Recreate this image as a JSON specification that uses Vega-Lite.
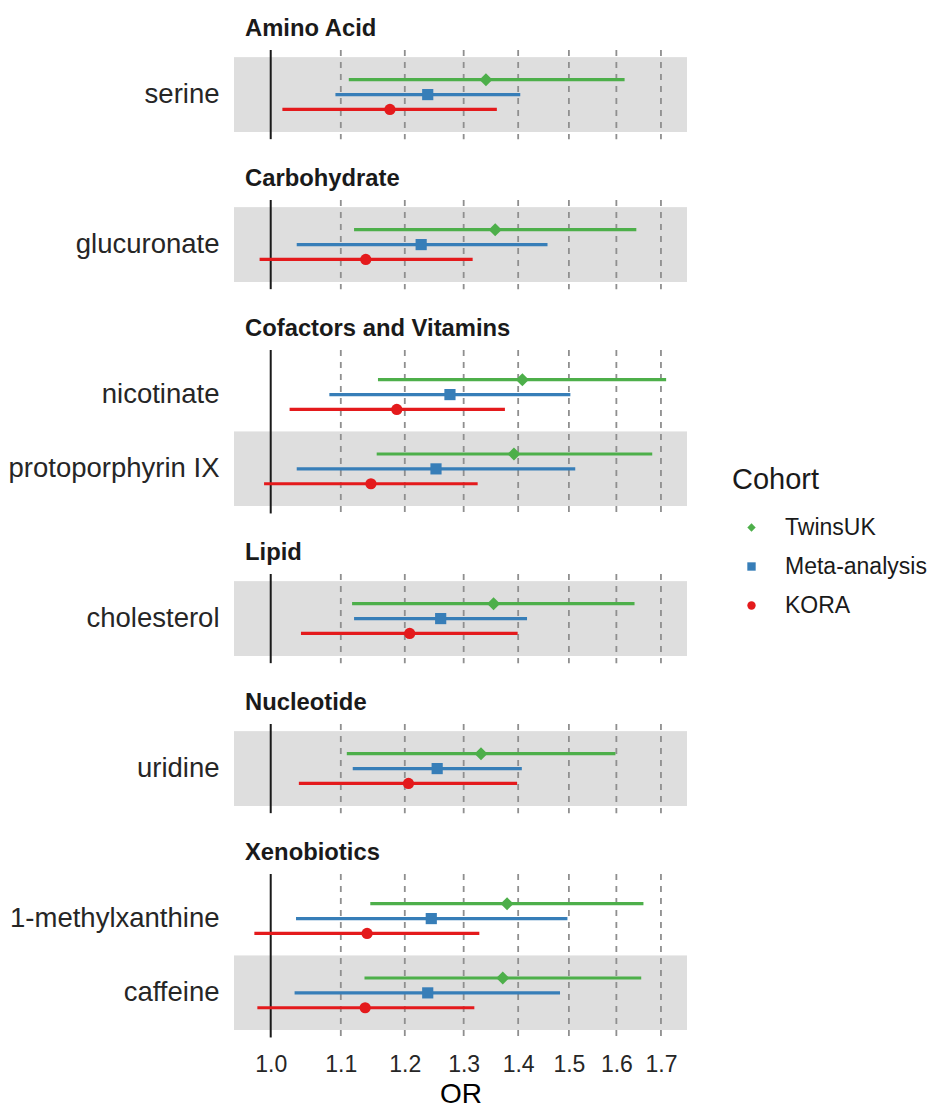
{
  "$schema": "https://vega.github.io/schema/vega-lite/v6.json",
  "background": "white",
  "padding": {"left": 8, "top": 17, "right": 5, "bottom": 0},
  "data": {"name": "forest"},
  "datasets": {
    "forest": [
      {"class": "Amino Acid", "metabolite": "serine", "cohort": "TwinsUK", "or": 1.340, "lo": 1.112, "hi": 1.618},
      {"class": "Amino Acid", "metabolite": "serine", "cohort": "Meta-analysis", "or": 1.238, "lo": 1.092, "hi": 1.404},
      {"class": "Amino Acid", "metabolite": "serine", "cohort": "KORA", "or": 1.176, "lo": 1.016, "hi": 1.360},
      {"class": "Carbohydrate", "metabolite": "glucuronate", "cohort": "TwinsUK", "or": 1.357, "lo": 1.120, "hi": 1.644},
      {"class": "Carbohydrate", "metabolite": "glucuronate", "cohort": "Meta-analysis", "or": 1.227, "lo": 1.036, "hi": 1.457},
      {"class": "Carbohydrate", "metabolite": "glucuronate", "cohort": "KORA", "or": 1.138, "lo": 0.985, "hi": 1.316},
      {"class": "Cofactors and Vitamins", "metabolite": "nicotinate", "cohort": "TwinsUK", "or": 1.408, "lo": 1.157, "hi": 1.712},
      {"class": "Cofactors and Vitamins", "metabolite": "nicotinate", "cohort": "Meta-analysis", "or": 1.276, "lo": 1.083, "hi": 1.503},
      {"class": "Cofactors and Vitamins", "metabolite": "nicotinate", "cohort": "KORA", "or": 1.187, "lo": 1.026, "hi": 1.375},
      {"class": "Cofactors and Vitamins", "metabolite": "protoporphyrin IX", "cohort": "TwinsUK", "or": 1.392, "lo": 1.155, "hi": 1.680},
      {"class": "Cofactors and Vitamins", "metabolite": "protoporphyrin IX", "cohort": "Meta-analysis", "or": 1.252, "lo": 1.036, "hi": 1.513},
      {"class": "Cofactors and Vitamins", "metabolite": "protoporphyrin IX", "cohort": "KORA", "or": 1.146, "lo": 0.991, "hi": 1.325},
      {"class": "Lipid", "metabolite": "cholesterol", "cohort": "TwinsUK", "or": 1.354, "lo": 1.117, "hi": 1.640},
      {"class": "Lipid", "metabolite": "cholesterol", "cohort": "Meta-analysis", "or": 1.260, "lo": 1.120, "hi": 1.417},
      {"class": "Lipid", "metabolite": "cholesterol", "cohort": "KORA", "or": 1.208, "lo": 1.042, "hi": 1.399},
      {"class": "Nucleotide", "metabolite": "uridine", "cohort": "TwinsUK", "or": 1.331, "lo": 1.109, "hi": 1.598},
      {"class": "Nucleotide", "metabolite": "uridine", "cohort": "Meta-analysis", "or": 1.254, "lo": 1.118, "hi": 1.407},
      {"class": "Nucleotide", "metabolite": "uridine", "cohort": "KORA", "or": 1.206, "lo": 1.039, "hi": 1.398},
      {"class": "Xenobiotics", "metabolite": "1-methylxanthine", "cohort": "TwinsUK", "or": 1.379, "lo": 1.145, "hi": 1.660},
      {"class": "Xenobiotics", "metabolite": "1-methylxanthine", "cohort": "Meta-analysis", "or": 1.244, "lo": 1.035, "hi": 1.497},
      {"class": "Xenobiotics", "metabolite": "1-methylxanthine", "cohort": "KORA", "or": 1.140, "lo": 0.978, "hi": 1.328},
      {"class": "Xenobiotics", "metabolite": "caffeine", "cohort": "TwinsUK", "or": 1.371, "lo": 1.136, "hi": 1.655},
      {"class": "Xenobiotics", "metabolite": "caffeine", "cohort": "Meta-analysis", "or": 1.238, "lo": 1.033, "hi": 1.482},
      {"class": "Xenobiotics", "metabolite": "caffeine", "cohort": "KORA", "or": 1.137, "lo": 0.982, "hi": 1.319}
    ],
    "gridlines": [{"v": 1.1}, {"v": 1.2}, {"v": 1.3}, {"v": 1.4}, {"v": 1.5}, {"v": 1.6}, {"v": 1.7}],
    "reference": [{"v": 1.0}]
  },
  "spacing": 26,
  "resolve": {"scale": {"yOffset": "independent"}},
  "vconcat": [
    {
      "title": {"text": "Amino Acid", "dx": 11},
      "width": 453,
      "height": {"step": 74.3},
      "layer": [
        {"transform": [{"filter": {"field": "class", "equal": "Amino Acid"}}, {"filter": {"field": "metabolite", "oneOf": ["serine", "glucuronate", "protoporphyrin IX", "cholesterol", "uridine", "caffeine"]}}],
         "mark": {"type": "rect", "color": "#dedede"},
         "encoding": {"y": {"field": "metabolite", "type": "nominal", "title": null, "scale": {"paddingInner": 0, "paddingOuter": 0.1}},
                      "x": {"datum": 0.9513, "type": "quantitative", "scale": {"type": "log", "domain": [0.9513, 1.7613], "nice": false}, "axis": null},
                      "x2": {"datum": 1.7613}}},
        {"data": {"name": "gridlines"}, "mark": {"type": "rule", "strokeDash": [6, 6], "color": "#8f8f8f", "strokeWidth": 1.8},
         "encoding": {"x": {"field": "v", "type": "quantitative", "scale": {"type": "log", "domain": [0.9513, 1.7613], "nice": false}, "axis": null}}},
        {"data": {"name": "reference"}, "mark": {"type": "rule", "color": "#1a1a1a", "strokeWidth": 2},
         "encoding": {"x": {"field": "v", "type": "quantitative", "scale": {"type": "log", "domain": [0.9513, 1.7613], "nice": false}, "axis": null}}},
        {"transform": [{"filter": {"field": "class", "equal": "Amino Acid"}}],
         "mark": {"type": "rule", "strokeWidth": 3.2},
         "encoding": {"y": {"field": "metabolite", "type": "nominal", "title": null, "scale": {"paddingInner": 0, "paddingOuter": 0.1}},
                      "yOffset": {"field": "cohort", "type": "nominal", "scale": {"domain": ["TwinsUK", "Meta-analysis", "KORA"], "range": [0, 74.3], "paddingInner": 0, "paddingOuter": 1.448}},
                      "x": {"field": "lo", "type": "quantitative", "scale": {"type": "log", "domain": [0.9513, 1.7613], "nice": false}, "axis": null},
                      "x2": {"field": "hi"},
                      "color": {"field": "cohort", "type": "nominal", "scale": {"domain": ["TwinsUK", "Meta-analysis", "KORA"], "range": ["#4DAF4A", "#377EB8", "#E41A1C"]}, "legend": {"title": "Cohort", "orient": "none", "legendX": 498, "legendY": 416}}}},
        {"transform": [{"filter": {"field": "class", "equal": "Amino Acid"}}, {"filter": {"field": "cohort", "equal": "TwinsUK"}}],
         "mark": {"type": "point", "filled": true, "opacity": 1, "size": 170},
         "encoding": {"y": {"field": "metabolite", "type": "nominal", "title": null, "scale": {"paddingInner": 0, "paddingOuter": 0.1}},
                      "yOffset": {"field": "cohort", "type": "nominal", "scale": {"domain": ["TwinsUK", "Meta-analysis", "KORA"], "range": [0, 74.3], "paddingInner": 0, "paddingOuter": 1.448}},
                      "x": {"field": "or", "type": "quantitative", "scale": {"type": "log", "domain": [0.9513, 1.7613], "nice": false}, "axis": null},
                      "color": {"field": "cohort", "type": "nominal", "scale": {"domain": ["TwinsUK", "Meta-analysis", "KORA"], "range": ["#4DAF4A", "#377EB8", "#E41A1C"]}, "legend": {"title": "Cohort", "orient": "none", "legendX": 498, "legendY": 416}},
                      "shape": {"field": "cohort", "type": "nominal", "scale": {"domain": ["TwinsUK", "Meta-analysis", "KORA"], "range": ["diamond", "square", "circle"]}, "legend": {"title": "Cohort", "orient": "none", "legendX": 498, "legendY": 416}}}},
        {"transform": [{"filter": {"field": "class", "equal": "Amino Acid"}}, {"filter": {"field": "cohort", "oneOf": ["Meta-analysis", "KORA"]}}],
         "mark": {"type": "point", "filled": true, "opacity": 1, "size": 125},
         "encoding": {"y": {"field": "metabolite", "type": "nominal", "title": null, "scale": {"paddingInner": 0, "paddingOuter": 0.1}},
                      "yOffset": {"field": "cohort", "type": "nominal", "scale": {"domain": ["TwinsUK", "Meta-analysis", "KORA"], "range": [0, 74.3], "paddingInner": 0, "paddingOuter": 1.448}},
                      "x": {"field": "or", "type": "quantitative", "scale": {"type": "log", "domain": [0.9513, 1.7613], "nice": false}, "axis": null},
                      "color": {"field": "cohort", "type": "nominal", "scale": {"domain": ["TwinsUK", "Meta-analysis", "KORA"], "range": ["#4DAF4A", "#377EB8", "#E41A1C"]}, "legend": {"title": "Cohort", "orient": "none", "legendX": 498, "legendY": 416}},
                      "shape": {"field": "cohort", "type": "nominal", "scale": {"domain": ["TwinsUK", "Meta-analysis", "KORA"], "range": ["diamond", "square", "circle"]}, "legend": {"title": "Cohort", "orient": "none", "legendX": 498, "legendY": 416}}}}
      ]
    },
    {
      "title": {"text": "Carbohydrate", "dx": 11},
      "width": 453,
      "height": {"step": 74.3},
      "layer": [
        {"transform": [{"filter": {"field": "class", "equal": "Carbohydrate"}}, {"filter": {"field": "metabolite", "oneOf": ["serine", "glucuronate", "protoporphyrin IX", "cholesterol", "uridine", "caffeine"]}}],
         "mark": {"type": "rect", "color": "#dedede"},
         "encoding": {"y": {"field": "metabolite", "type": "nominal", "title": null, "scale": {"paddingInner": 0, "paddingOuter": 0.1}},
                      "x": {"datum": 0.9513, "type": "quantitative", "scale": {"type": "log", "domain": [0.9513, 1.7613], "nice": false}, "axis": null},
                      "x2": {"datum": 1.7613}}},
        {"data": {"name": "gridlines"}, "mark": {"type": "rule", "strokeDash": [6, 6], "color": "#8f8f8f", "strokeWidth": 1.8},
         "encoding": {"x": {"field": "v", "type": "quantitative", "scale": {"type": "log", "domain": [0.9513, 1.7613], "nice": false}, "axis": null}}},
        {"data": {"name": "reference"}, "mark": {"type": "rule", "color": "#1a1a1a", "strokeWidth": 2},
         "encoding": {"x": {"field": "v", "type": "quantitative", "scale": {"type": "log", "domain": [0.9513, 1.7613], "nice": false}, "axis": null}}},
        {"transform": [{"filter": {"field": "class", "equal": "Carbohydrate"}}],
         "mark": {"type": "rule", "strokeWidth": 3.2},
         "encoding": {"y": {"field": "metabolite", "type": "nominal", "title": null, "scale": {"paddingInner": 0, "paddingOuter": 0.1}},
                      "yOffset": {"field": "cohort", "type": "nominal", "scale": {"domain": ["TwinsUK", "Meta-analysis", "KORA"], "range": [0, 74.3], "paddingInner": 0, "paddingOuter": 1.448}},
                      "x": {"field": "lo", "type": "quantitative", "scale": {"type": "log", "domain": [0.9513, 1.7613], "nice": false}, "axis": null},
                      "x2": {"field": "hi"},
                      "color": {"field": "cohort", "type": "nominal", "scale": {"domain": ["TwinsUK", "Meta-analysis", "KORA"], "range": ["#4DAF4A", "#377EB8", "#E41A1C"]}, "legend": {"title": "Cohort", "orient": "none", "legendX": 498, "legendY": 416}}}},
        {"transform": [{"filter": {"field": "class", "equal": "Carbohydrate"}}, {"filter": {"field": "cohort", "equal": "TwinsUK"}}],
         "mark": {"type": "point", "filled": true, "opacity": 1, "size": 170},
         "encoding": {"y": {"field": "metabolite", "type": "nominal", "title": null, "scale": {"paddingInner": 0, "paddingOuter": 0.1}},
                      "yOffset": {"field": "cohort", "type": "nominal", "scale": {"domain": ["TwinsUK", "Meta-analysis", "KORA"], "range": [0, 74.3], "paddingInner": 0, "paddingOuter": 1.448}},
                      "x": {"field": "or", "type": "quantitative", "scale": {"type": "log", "domain": [0.9513, 1.7613], "nice": false}, "axis": null},
                      "color": {"field": "cohort", "type": "nominal", "scale": {"domain": ["TwinsUK", "Meta-analysis", "KORA"], "range": ["#4DAF4A", "#377EB8", "#E41A1C"]}, "legend": {"title": "Cohort", "orient": "none", "legendX": 498, "legendY": 416}},
                      "shape": {"field": "cohort", "type": "nominal", "scale": {"domain": ["TwinsUK", "Meta-analysis", "KORA"], "range": ["diamond", "square", "circle"]}, "legend": {"title": "Cohort", "orient": "none", "legendX": 498, "legendY": 416}}}},
        {"transform": [{"filter": {"field": "class", "equal": "Carbohydrate"}}, {"filter": {"field": "cohort", "oneOf": ["Meta-analysis", "KORA"]}}],
         "mark": {"type": "point", "filled": true, "opacity": 1, "size": 125},
         "encoding": {"y": {"field": "metabolite", "type": "nominal", "title": null, "scale": {"paddingInner": 0, "paddingOuter": 0.1}},
                      "yOffset": {"field": "cohort", "type": "nominal", "scale": {"domain": ["TwinsUK", "Meta-analysis", "KORA"], "range": [0, 74.3], "paddingInner": 0, "paddingOuter": 1.448}},
                      "x": {"field": "or", "type": "quantitative", "scale": {"type": "log", "domain": [0.9513, 1.7613], "nice": false}, "axis": null},
                      "color": {"field": "cohort", "type": "nominal", "scale": {"domain": ["TwinsUK", "Meta-analysis", "KORA"], "range": ["#4DAF4A", "#377EB8", "#E41A1C"]}, "legend": {"title": "Cohort", "orient": "none", "legendX": 498, "legendY": 416}},
                      "shape": {"field": "cohort", "type": "nominal", "scale": {"domain": ["TwinsUK", "Meta-analysis", "KORA"], "range": ["diamond", "square", "circle"]}, "legend": {"title": "Cohort", "orient": "none", "legendX": 498, "legendY": 416}}}}
      ]
    },
    {
      "title": {"text": "Cofactors and Vitamins", "dx": 11},
      "width": 453,
      "height": {"step": 74.3},
      "layer": [
        {"transform": [{"filter": {"field": "class", "equal": "Cofactors and Vitamins"}}, {"filter": {"field": "metabolite", "oneOf": ["serine", "glucuronate", "protoporphyrin IX", "cholesterol", "uridine", "caffeine"]}}],
         "mark": {"type": "rect", "color": "#dedede"},
         "encoding": {"y": {"field": "metabolite", "type": "nominal", "title": null, "scale": {"paddingInner": 0, "paddingOuter": 0.1}},
                      "x": {"datum": 0.9513, "type": "quantitative", "scale": {"type": "log", "domain": [0.9513, 1.7613], "nice": false}, "axis": null},
                      "x2": {"datum": 1.7613}}},
        {"data": {"name": "gridlines"}, "mark": {"type": "rule", "strokeDash": [6, 6], "color": "#8f8f8f", "strokeWidth": 1.8},
         "encoding": {"x": {"field": "v", "type": "quantitative", "scale": {"type": "log", "domain": [0.9513, 1.7613], "nice": false}, "axis": null}}},
        {"data": {"name": "reference"}, "mark": {"type": "rule", "color": "#1a1a1a", "strokeWidth": 2},
         "encoding": {"x": {"field": "v", "type": "quantitative", "scale": {"type": "log", "domain": [0.9513, 1.7613], "nice": false}, "axis": null}}},
        {"transform": [{"filter": {"field": "class", "equal": "Cofactors and Vitamins"}}],
         "mark": {"type": "rule", "strokeWidth": 3.2},
         "encoding": {"y": {"field": "metabolite", "type": "nominal", "title": null, "scale": {"paddingInner": 0, "paddingOuter": 0.1}},
                      "yOffset": {"field": "cohort", "type": "nominal", "scale": {"domain": ["TwinsUK", "Meta-analysis", "KORA"], "range": [0, 74.3], "paddingInner": 0, "paddingOuter": 1.448}},
                      "x": {"field": "lo", "type": "quantitative", "scale": {"type": "log", "domain": [0.9513, 1.7613], "nice": false}, "axis": null},
                      "x2": {"field": "hi"},
                      "color": {"field": "cohort", "type": "nominal", "scale": {"domain": ["TwinsUK", "Meta-analysis", "KORA"], "range": ["#4DAF4A", "#377EB8", "#E41A1C"]}, "legend": {"title": "Cohort", "orient": "none", "legendX": 498, "legendY": 416}}}},
        {"transform": [{"filter": {"field": "class", "equal": "Cofactors and Vitamins"}}, {"filter": {"field": "cohort", "equal": "TwinsUK"}}],
         "mark": {"type": "point", "filled": true, "opacity": 1, "size": 170},
         "encoding": {"y": {"field": "metabolite", "type": "nominal", "title": null, "scale": {"paddingInner": 0, "paddingOuter": 0.1}},
                      "yOffset": {"field": "cohort", "type": "nominal", "scale": {"domain": ["TwinsUK", "Meta-analysis", "KORA"], "range": [0, 74.3], "paddingInner": 0, "paddingOuter": 1.448}},
                      "x": {"field": "or", "type": "quantitative", "scale": {"type": "log", "domain": [0.9513, 1.7613], "nice": false}, "axis": null},
                      "color": {"field": "cohort", "type": "nominal", "scale": {"domain": ["TwinsUK", "Meta-analysis", "KORA"], "range": ["#4DAF4A", "#377EB8", "#E41A1C"]}, "legend": {"title": "Cohort", "orient": "none", "legendX": 498, "legendY": 416}},
                      "shape": {"field": "cohort", "type": "nominal", "scale": {"domain": ["TwinsUK", "Meta-analysis", "KORA"], "range": ["diamond", "square", "circle"]}, "legend": {"title": "Cohort", "orient": "none", "legendX": 498, "legendY": 416}}}},
        {"transform": [{"filter": {"field": "class", "equal": "Cofactors and Vitamins"}}, {"filter": {"field": "cohort", "oneOf": ["Meta-analysis", "KORA"]}}],
         "mark": {"type": "point", "filled": true, "opacity": 1, "size": 125},
         "encoding": {"y": {"field": "metabolite", "type": "nominal", "title": null, "scale": {"paddingInner": 0, "paddingOuter": 0.1}},
                      "yOffset": {"field": "cohort", "type": "nominal", "scale": {"domain": ["TwinsUK", "Meta-analysis", "KORA"], "range": [0, 74.3], "paddingInner": 0, "paddingOuter": 1.448}},
                      "x": {"field": "or", "type": "quantitative", "scale": {"type": "log", "domain": [0.9513, 1.7613], "nice": false}, "axis": null},
                      "color": {"field": "cohort", "type": "nominal", "scale": {"domain": ["TwinsUK", "Meta-analysis", "KORA"], "range": ["#4DAF4A", "#377EB8", "#E41A1C"]}, "legend": {"title": "Cohort", "orient": "none", "legendX": 498, "legendY": 416}},
                      "shape": {"field": "cohort", "type": "nominal", "scale": {"domain": ["TwinsUK", "Meta-analysis", "KORA"], "range": ["diamond", "square", "circle"]}, "legend": {"title": "Cohort", "orient": "none", "legendX": 498, "legendY": 416}}}}
      ]
    },
    {
      "title": {"text": "Lipid", "dx": 11},
      "width": 453,
      "height": {"step": 74.3},
      "layer": [
        {"transform": [{"filter": {"field": "class", "equal": "Lipid"}}, {"filter": {"field": "metabolite", "oneOf": ["serine", "glucuronate", "protoporphyrin IX", "cholesterol", "uridine", "caffeine"]}}],
         "mark": {"type": "rect", "color": "#dedede"},
         "encoding": {"y": {"field": "metabolite", "type": "nominal", "title": null, "scale": {"paddingInner": 0, "paddingOuter": 0.1}},
                      "x": {"datum": 0.9513, "type": "quantitative", "scale": {"type": "log", "domain": [0.9513, 1.7613], "nice": false}, "axis": null},
                      "x2": {"datum": 1.7613}}},
        {"data": {"name": "gridlines"}, "mark": {"type": "rule", "strokeDash": [6, 6], "color": "#8f8f8f", "strokeWidth": 1.8},
         "encoding": {"x": {"field": "v", "type": "quantitative", "scale": {"type": "log", "domain": [0.9513, 1.7613], "nice": false}, "axis": null}}},
        {"data": {"name": "reference"}, "mark": {"type": "rule", "color": "#1a1a1a", "strokeWidth": 2},
         "encoding": {"x": {"field": "v", "type": "quantitative", "scale": {"type": "log", "domain": [0.9513, 1.7613], "nice": false}, "axis": null}}},
        {"transform": [{"filter": {"field": "class", "equal": "Lipid"}}],
         "mark": {"type": "rule", "strokeWidth": 3.2},
         "encoding": {"y": {"field": "metabolite", "type": "nominal", "title": null, "scale": {"paddingInner": 0, "paddingOuter": 0.1}},
                      "yOffset": {"field": "cohort", "type": "nominal", "scale": {"domain": ["TwinsUK", "Meta-analysis", "KORA"], "range": [0, 74.3], "paddingInner": 0, "paddingOuter": 1.448}},
                      "x": {"field": "lo", "type": "quantitative", "scale": {"type": "log", "domain": [0.9513, 1.7613], "nice": false}, "axis": null},
                      "x2": {"field": "hi"},
                      "color": {"field": "cohort", "type": "nominal", "scale": {"domain": ["TwinsUK", "Meta-analysis", "KORA"], "range": ["#4DAF4A", "#377EB8", "#E41A1C"]}, "legend": {"title": "Cohort", "orient": "none", "legendX": 498, "legendY": 416}}}},
        {"transform": [{"filter": {"field": "class", "equal": "Lipid"}}, {"filter": {"field": "cohort", "equal": "TwinsUK"}}],
         "mark": {"type": "point", "filled": true, "opacity": 1, "size": 170},
         "encoding": {"y": {"field": "metabolite", "type": "nominal", "title": null, "scale": {"paddingInner": 0, "paddingOuter": 0.1}},
                      "yOffset": {"field": "cohort", "type": "nominal", "scale": {"domain": ["TwinsUK", "Meta-analysis", "KORA"], "range": [0, 74.3], "paddingInner": 0, "paddingOuter": 1.448}},
                      "x": {"field": "or", "type": "quantitative", "scale": {"type": "log", "domain": [0.9513, 1.7613], "nice": false}, "axis": null},
                      "color": {"field": "cohort", "type": "nominal", "scale": {"domain": ["TwinsUK", "Meta-analysis", "KORA"], "range": ["#4DAF4A", "#377EB8", "#E41A1C"]}, "legend": {"title": "Cohort", "orient": "none", "legendX": 498, "legendY": 416}},
                      "shape": {"field": "cohort", "type": "nominal", "scale": {"domain": ["TwinsUK", "Meta-analysis", "KORA"], "range": ["diamond", "square", "circle"]}, "legend": {"title": "Cohort", "orient": "none", "legendX": 498, "legendY": 416}}}},
        {"transform": [{"filter": {"field": "class", "equal": "Lipid"}}, {"filter": {"field": "cohort", "oneOf": ["Meta-analysis", "KORA"]}}],
         "mark": {"type": "point", "filled": true, "opacity": 1, "size": 125},
         "encoding": {"y": {"field": "metabolite", "type": "nominal", "title": null, "scale": {"paddingInner": 0, "paddingOuter": 0.1}},
                      "yOffset": {"field": "cohort", "type": "nominal", "scale": {"domain": ["TwinsUK", "Meta-analysis", "KORA"], "range": [0, 74.3], "paddingInner": 0, "paddingOuter": 1.448}},
                      "x": {"field": "or", "type": "quantitative", "scale": {"type": "log", "domain": [0.9513, 1.7613], "nice": false}, "axis": null},
                      "color": {"field": "cohort", "type": "nominal", "scale": {"domain": ["TwinsUK", "Meta-analysis", "KORA"], "range": ["#4DAF4A", "#377EB8", "#E41A1C"]}, "legend": {"title": "Cohort", "orient": "none", "legendX": 498, "legendY": 416}},
                      "shape": {"field": "cohort", "type": "nominal", "scale": {"domain": ["TwinsUK", "Meta-analysis", "KORA"], "range": ["diamond", "square", "circle"]}, "legend": {"title": "Cohort", "orient": "none", "legendX": 498, "legendY": 416}}}}
      ]
    },
    {
      "title": {"text": "Nucleotide", "dx": 11},
      "width": 453,
      "height": {"step": 74.3},
      "layer": [
        {"transform": [{"filter": {"field": "class", "equal": "Nucleotide"}}, {"filter": {"field": "metabolite", "oneOf": ["serine", "glucuronate", "protoporphyrin IX", "cholesterol", "uridine", "caffeine"]}}],
         "mark": {"type": "rect", "color": "#dedede"},
         "encoding": {"y": {"field": "metabolite", "type": "nominal", "title": null, "scale": {"paddingInner": 0, "paddingOuter": 0.1}},
                      "x": {"datum": 0.9513, "type": "quantitative", "scale": {"type": "log", "domain": [0.9513, 1.7613], "nice": false}, "axis": null},
                      "x2": {"datum": 1.7613}}},
        {"data": {"name": "gridlines"}, "mark": {"type": "rule", "strokeDash": [6, 6], "color": "#8f8f8f", "strokeWidth": 1.8},
         "encoding": {"x": {"field": "v", "type": "quantitative", "scale": {"type": "log", "domain": [0.9513, 1.7613], "nice": false}, "axis": null}}},
        {"data": {"name": "reference"}, "mark": {"type": "rule", "color": "#1a1a1a", "strokeWidth": 2},
         "encoding": {"x": {"field": "v", "type": "quantitative", "scale": {"type": "log", "domain": [0.9513, 1.7613], "nice": false}, "axis": null}}},
        {"transform": [{"filter": {"field": "class", "equal": "Nucleotide"}}],
         "mark": {"type": "rule", "strokeWidth": 3.2},
         "encoding": {"y": {"field": "metabolite", "type": "nominal", "title": null, "scale": {"paddingInner": 0, "paddingOuter": 0.1}},
                      "yOffset": {"field": "cohort", "type": "nominal", "scale": {"domain": ["TwinsUK", "Meta-analysis", "KORA"], "range": [0, 74.3], "paddingInner": 0, "paddingOuter": 1.448}},
                      "x": {"field": "lo", "type": "quantitative", "scale": {"type": "log", "domain": [0.9513, 1.7613], "nice": false}, "axis": null},
                      "x2": {"field": "hi"},
                      "color": {"field": "cohort", "type": "nominal", "scale": {"domain": ["TwinsUK", "Meta-analysis", "KORA"], "range": ["#4DAF4A", "#377EB8", "#E41A1C"]}, "legend": {"title": "Cohort", "orient": "none", "legendX": 498, "legendY": 416}}}},
        {"transform": [{"filter": {"field": "class", "equal": "Nucleotide"}}, {"filter": {"field": "cohort", "equal": "TwinsUK"}}],
         "mark": {"type": "point", "filled": true, "opacity": 1, "size": 170},
         "encoding": {"y": {"field": "metabolite", "type": "nominal", "title": null, "scale": {"paddingInner": 0, "paddingOuter": 0.1}},
                      "yOffset": {"field": "cohort", "type": "nominal", "scale": {"domain": ["TwinsUK", "Meta-analysis", "KORA"], "range": [0, 74.3], "paddingInner": 0, "paddingOuter": 1.448}},
                      "x": {"field": "or", "type": "quantitative", "scale": {"type": "log", "domain": [0.9513, 1.7613], "nice": false}, "axis": null},
                      "color": {"field": "cohort", "type": "nominal", "scale": {"domain": ["TwinsUK", "Meta-analysis", "KORA"], "range": ["#4DAF4A", "#377EB8", "#E41A1C"]}, "legend": {"title": "Cohort", "orient": "none", "legendX": 498, "legendY": 416}},
                      "shape": {"field": "cohort", "type": "nominal", "scale": {"domain": ["TwinsUK", "Meta-analysis", "KORA"], "range": ["diamond", "square", "circle"]}, "legend": {"title": "Cohort", "orient": "none", "legendX": 498, "legendY": 416}}}},
        {"transform": [{"filter": {"field": "class", "equal": "Nucleotide"}}, {"filter": {"field": "cohort", "oneOf": ["Meta-analysis", "KORA"]}}],
         "mark": {"type": "point", "filled": true, "opacity": 1, "size": 125},
         "encoding": {"y": {"field": "metabolite", "type": "nominal", "title": null, "scale": {"paddingInner": 0, "paddingOuter": 0.1}},
                      "yOffset": {"field": "cohort", "type": "nominal", "scale": {"domain": ["TwinsUK", "Meta-analysis", "KORA"], "range": [0, 74.3], "paddingInner": 0, "paddingOuter": 1.448}},
                      "x": {"field": "or", "type": "quantitative", "scale": {"type": "log", "domain": [0.9513, 1.7613], "nice": false}, "axis": null},
                      "color": {"field": "cohort", "type": "nominal", "scale": {"domain": ["TwinsUK", "Meta-analysis", "KORA"], "range": ["#4DAF4A", "#377EB8", "#E41A1C"]}, "legend": {"title": "Cohort", "orient": "none", "legendX": 498, "legendY": 416}},
                      "shape": {"field": "cohort", "type": "nominal", "scale": {"domain": ["TwinsUK", "Meta-analysis", "KORA"], "range": ["diamond", "square", "circle"]}, "legend": {"title": "Cohort", "orient": "none", "legendX": 498, "legendY": 416}}}}
      ]
    },
    {
      "title": {"text": "Xenobiotics", "dx": 11},
      "width": 453,
      "height": {"step": 74.3},
      "layer": [
        {"transform": [{"filter": {"field": "class", "equal": "Xenobiotics"}}, {"filter": {"field": "metabolite", "oneOf": ["serine", "glucuronate", "protoporphyrin IX", "cholesterol", "uridine", "caffeine"]}}],
         "mark": {"type": "rect", "color": "#dedede"},
         "encoding": {"y": {"field": "metabolite", "type": "nominal", "title": null, "scale": {"paddingInner": 0, "paddingOuter": 0.1}},
                      "x": {"datum": 0.9513, "type": "quantitative", "scale": {"type": "log", "domain": [0.9513, 1.7613], "nice": false},
                            "axis": {"title": "OR", "values": [1.0, 1.1, 1.2, 1.3, 1.4, 1.5, 1.6, 1.7], "format": ".1f", "grid": false, "domain": false, "ticks": false, "labelFlush": false}},
                      "x2": {"datum": 1.7613}}},
        {"data": {"name": "gridlines"}, "mark": {"type": "rule", "strokeDash": [6, 6], "color": "#8f8f8f", "strokeWidth": 1.8},
         "encoding": {"x": {"field": "v", "type": "quantitative", "scale": {"type": "log", "domain": [0.9513, 1.7613], "nice": false},
                            "axis": {"title": "OR", "values": [1.0, 1.1, 1.2, 1.3, 1.4, 1.5, 1.6, 1.7], "format": ".1f", "grid": false, "domain": false, "ticks": false, "labelFlush": false}}}},
        {"data": {"name": "reference"}, "mark": {"type": "rule", "color": "#1a1a1a", "strokeWidth": 2},
         "encoding": {"x": {"field": "v", "type": "quantitative", "scale": {"type": "log", "domain": [0.9513, 1.7613], "nice": false},
                            "axis": {"title": "OR", "values": [1.0, 1.1, 1.2, 1.3, 1.4, 1.5, 1.6, 1.7], "format": ".1f", "grid": false, "domain": false, "ticks": false, "labelFlush": false}}}},
        {"transform": [{"filter": {"field": "class", "equal": "Xenobiotics"}}],
         "mark": {"type": "rule", "strokeWidth": 3.2},
         "encoding": {"y": {"field": "metabolite", "type": "nominal", "title": null, "scale": {"paddingInner": 0, "paddingOuter": 0.1}},
                      "yOffset": {"field": "cohort", "type": "nominal", "scale": {"domain": ["TwinsUK", "Meta-analysis", "KORA"], "range": [0, 74.3], "paddingInner": 0, "paddingOuter": 1.448}},
                      "x": {"field": "lo", "type": "quantitative", "scale": {"type": "log", "domain": [0.9513, 1.7613], "nice": false},
                            "axis": {"title": "OR", "values": [1.0, 1.1, 1.2, 1.3, 1.4, 1.5, 1.6, 1.7], "format": ".1f", "grid": false, "domain": false, "ticks": false, "labelFlush": false}},
                      "x2": {"field": "hi"},
                      "color": {"field": "cohort", "type": "nominal", "scale": {"domain": ["TwinsUK", "Meta-analysis", "KORA"], "range": ["#4DAF4A", "#377EB8", "#E41A1C"]}, "legend": {"title": "Cohort", "orient": "none", "legendX": 498, "legendY": 416}}}},
        {"transform": [{"filter": {"field": "class", "equal": "Xenobiotics"}}, {"filter": {"field": "cohort", "equal": "TwinsUK"}}],
         "mark": {"type": "point", "filled": true, "opacity": 1, "size": 170},
         "encoding": {"y": {"field": "metabolite", "type": "nominal", "title": null, "scale": {"paddingInner": 0, "paddingOuter": 0.1}},
                      "yOffset": {"field": "cohort", "type": "nominal", "scale": {"domain": ["TwinsUK", "Meta-analysis", "KORA"], "range": [0, 74.3], "paddingInner": 0, "paddingOuter": 1.448}},
                      "x": {"field": "or", "type": "quantitative", "scale": {"type": "log", "domain": [0.9513, 1.7613], "nice": false},
                            "axis": {"title": "OR", "values": [1.0, 1.1, 1.2, 1.3, 1.4, 1.5, 1.6, 1.7], "format": ".1f", "grid": false, "domain": false, "ticks": false, "labelFlush": false}},
                      "color": {"field": "cohort", "type": "nominal", "scale": {"domain": ["TwinsUK", "Meta-analysis", "KORA"], "range": ["#4DAF4A", "#377EB8", "#E41A1C"]}, "legend": {"title": "Cohort", "orient": "none", "legendX": 498, "legendY": 416}},
                      "shape": {"field": "cohort", "type": "nominal", "scale": {"domain": ["TwinsUK", "Meta-analysis", "KORA"], "range": ["diamond", "square", "circle"]}, "legend": {"title": "Cohort", "orient": "none", "legendX": 498, "legendY": 416}}}},
        {"transform": [{"filter": {"field": "class", "equal": "Xenobiotics"}}, {"filter": {"field": "cohort", "oneOf": ["Meta-analysis", "KORA"]}}],
         "mark": {"type": "point", "filled": true, "opacity": 1, "size": 125},
         "encoding": {"y": {"field": "metabolite", "type": "nominal", "title": null, "scale": {"paddingInner": 0, "paddingOuter": 0.1}},
                      "yOffset": {"field": "cohort", "type": "nominal", "scale": {"domain": ["TwinsUK", "Meta-analysis", "KORA"], "range": [0, 74.3], "paddingInner": 0, "paddingOuter": 1.448}},
                      "x": {"field": "or", "type": "quantitative", "scale": {"type": "log", "domain": [0.9513, 1.7613], "nice": false},
                            "axis": {"title": "OR", "values": [1.0, 1.1, 1.2, 1.3, 1.4, 1.5, 1.6, 1.7], "format": ".1f", "grid": false, "domain": false, "ticks": false, "labelFlush": false}},
                      "color": {"field": "cohort", "type": "nominal", "scale": {"domain": ["TwinsUK", "Meta-analysis", "KORA"], "range": ["#4DAF4A", "#377EB8", "#E41A1C"]}, "legend": {"title": "Cohort", "orient": "none", "legendX": 498, "legendY": 416}},
                      "shape": {"field": "cohort", "type": "nominal", "scale": {"domain": ["TwinsUK", "Meta-analysis", "KORA"], "range": ["diamond", "square", "circle"]}, "legend": {"title": "Cohort", "orient": "none", "legendX": 498, "legendY": 416}}}}
      ]
    }
  ],
  "config": {
    "font": "Liberation Sans",
    "view": {"stroke": null},
    "title": {"anchor": "start", "frame": "group", "fontSize": 23.8, "fontWeight": "bold", "color": "#1a1a1a", "offset": 8},
    "axis": {"grid": false},
    "axisY": {"ticks": false, "domain": false, "labelFontSize": 27.5, "labelPadding": 15, "labelLimit": 400, "labelColor": "#262626", "labelFont": "Liberation Sans"},
    "axisX": {"labelFontSize": 23, "labelPadding": 16, "labelColor": "#262626", "titleFontSize": 28, "titleFontWeight": "normal", "titleColor": "#000000", "titlePadding": 4, "labelFont": "Liberation Sans", "titleFont": "Liberation Sans"},
    "legend": {"titleFontSize": 29, "titleFontWeight": "normal", "titleColor": "#1a1a1a", "labelFontSize": 23, "labelColor": "#1a1a1a", "symbolSize": 70, "symbolOffset": 8, "labelOffset": 22, "rowPadding": 15, "titlePadding": 21, "padding": 0, "symbolStrokeWidth": 0}
  }
}
